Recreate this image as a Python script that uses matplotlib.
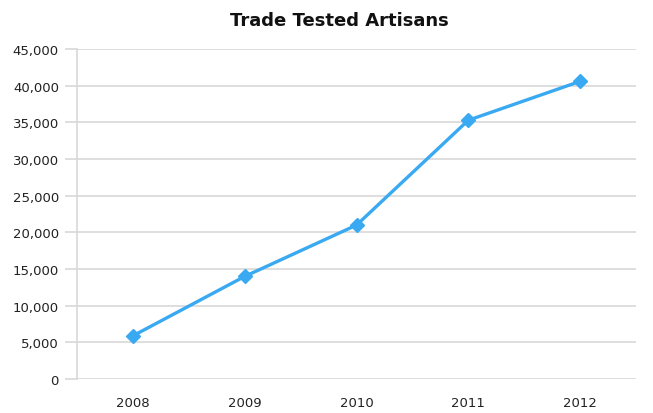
import matplotlib.pyplot as plt
from matplotlib.ticker import FuncFormatter

years = ["2008", "2009", "2010", "2011", "2012"]
artisans = [5900, 14000, 21000, 35300, 40600]
y_ticks = list(range(0, 45001, 5000))

fig = plt.figure(figsize=(6.53, 4.14), dpi=100)
ax = fig.add_axes([0.118, 0.082, 0.856, 0.797])

# grid lines
for t in y_ticks:
    ax.axhline(t, color="#d8d8d8", lw=1.2, zorder=1)

x = list(range(len(years)))
ax.plot(x, artisans, color="#39a9f2", lw=2.4, marker="D", markersize=7.5,
        zorder=3, clip_on=False)

ax.set_xlim(-0.5, len(years) - 0.5)
ax.set_ylim(0, 45000)
ax.set_xticks(x)
ax.set_xticklabels(years)
ax.set_yticks(y_ticks)
ax.yaxis.set_major_formatter(FuncFormatter(lambda v, p: f"{int(v):,}"))

for side in ["top", "right", "bottom"]:
    ax.spines[side].set_visible(False)
ax.spines["left"].set_color("#d8d8d8")
ax.spines["left"].set_linewidth(1.2)
ax.tick_params(axis="y", length=9, color="#d8d8d8", width=1.2, pad=4,
               labelsize=9.5, labelcolor="#222222")
ax.tick_params(axis="x", length=0, pad=12, labelsize=9.5, labelcolor="#222222")

fig.text(0.52, 0.95, "Trade Tested Artisans", ha="center", va="center",
         fontsize=13, fontweight="bold", color="#111111")

fig.savefig("out.png", dpi=100)
